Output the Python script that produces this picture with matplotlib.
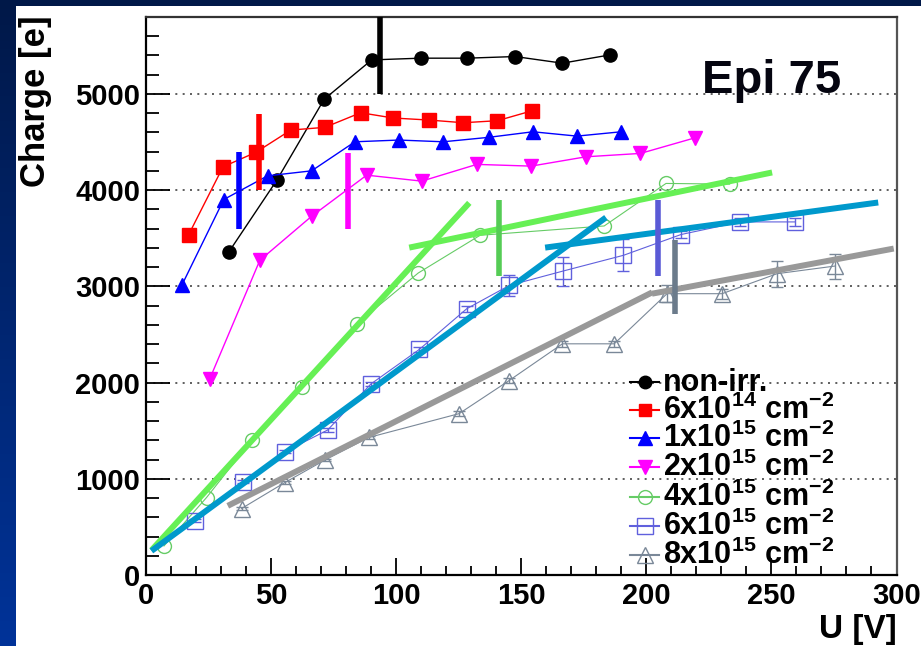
import numpy as np
import matplotlib
matplotlib.use("Agg")
import matplotlib.pyplot as plt
from matplotlib.lines import Line2D
from matplotlib.ticker import MultipleLocator
from matplotlib.colors import LinearSegmentedColormap

plt.rcParams['font.family'] = ['Liberation Sans', 'DejaVu Sans']
plt.rcParams['font.weight'] = 'bold'
plt.rcParams['mathtext.default'] = 'regular'

# ---------------- data ----------------
v_nonirr = [33.2, 52.4, 71.3, 90.3, 109.9, 128.5, 147.6, 166.5, 185.5]
q_nonirr = [3357, 4104, 4945, 5354, 5372, 5372, 5389, 5320, 5406]

v_6e14 = [17.2, 30.9, 44.0, 58.0, 71.6, 85.9, 98.9, 113.2, 126.9, 140.5, 154.5]
q_6e14 = [3539, 4243, 4393, 4625, 4653, 4805, 4750, 4729, 4701, 4722, 4826]

v_1e15 = [14.4, 31.2, 48.7, 66.3, 83.6, 101.2, 118.9, 137.0, 154.7, 172.3, 190.0]
q_1e15 = [3010, 3903, 4149, 4201, 4503, 4521, 4503, 4549, 4607, 4562, 4607]

v_2e15 = [25.6, 45.6, 66.3, 88.3, 110.3, 132.3, 154.0, 175.9, 197.7, 219.6]
q_2e15 = [2039, 3271, 3729, 4156, 4094, 4268, 4250, 4347, 4382, 4545]

v_4e15 = [7.3, 24.3, 42.5, 62.3, 84.3, 108.9, 133.6, 183.2, 207.9, 233.3]
q_4e15 = [302, 805, 1403, 1958, 2611, 3139, 3531, 3628, 4070, 4063]

v_6e15 = [19.6, 38.9, 55.6, 72.7, 90.0, 109.3, 128.3, 145.3, 166.7, 190.9, 213.9, 237.6, 259.3]
q_6e15 = [562, 969, 1281, 1507, 1986, 2344, 2768, 3010, 3159, 3323, 3539, 3670, 3670]
e_6e15 = [15, 15, 15, 20, 25, 30, 30, 105, 150, 168, 40, 40, 40]

v_8e15 = [38.3, 55.6, 71.6, 89.2, 125.2, 145.2, 166.5, 187.2, 208.3, 230.3, 252.3, 275.3]
q_8e15 = [691, 961, 1195, 1430, 1677, 2021, 2403, 2403, 2924, 2924, 3132, 3211]
e_8e15 = [15, 15, 15, 20, 25, 30, 30, 30, 87, 50, 135, 130]

# linear-fit segments ([V start, V end], [Q start, Q end])
fit_4e15 = [([2.3, 129.3], [257, 3868]), ([105.3, 250.3], [3403, 4184])]
fit_6e15 = [([2.3, 183.9], [250, 3716]), ([159.6, 292.7], [3403, 3872])]
fit_8e15 = [([32.8, 202.4], [719, 2938]), ([202.3, 298.9], [2924, 3393])]

# depletion-voltage markers (V, Q low, Q high)
dep_v = [93.6, 45.2, 37.3, 81.0, 141.3, 204.7, 211.3]
dep_lo = [5000, 4000, 3601, 3601, 3107, 3107, 2716]
dep_hi = [5800, 4788, 4393, 4382, 3896, 3896, 3486]
dep_colors = ['black', '#ff0000', '#0000ff', '#ff00ff', '#55cc55', '#5a5ad6', '#6b7b8b']

labels = ['non-irr.',
          r'6x10$^{14}$ cm$^{-2}$',
          r'1x10$^{15}$ cm$^{-2}$',
          r'2x10$^{15}$ cm$^{-2}$',
          r'4x10$^{15}$ cm$^{-2}$',
          r'6x10$^{15}$ cm$^{-2}$',
          r'8x10$^{15}$ cm$^{-2}$']

# ---------------- figure ----------------
W, H = 921, 646
fig = plt.figure(figsize=(W / 100, H / 100), dpi=100)
fig.patch.set_facecolor('white')

# navy frame strips
grad = np.linspace(0, 1, 256).reshape(-1, 1)
cm_nav = LinearSegmentedColormap.from_list('nav', ['#001848', '#003399'])
axl = fig.add_axes([0, 0, 15 / W, 1])
axl.imshow(grad, aspect='auto', cmap=cm_nav, extent=[0, 1, 0, 1], origin='upper')
axl.axis('off')
axt = fig.add_axes([0, 1 - 5.5 / H, 1, 5.5 / H])
axt.set_facecolor('#001848')
axt.set_xticks([]); axt.set_yticks([])
for s in axt.spines.values():
    s.set_visible(False)

x0, x1, yb, yt = 145.7, 896.5, 575, 17
ax = fig.add_axes([x0 / W, 1 - yb / H, (x1 - x0) / W, (yb - yt) / H])
ax.set_xlim(0, 300)
ax.set_ylim(0, 5800)

# grid
for yv in [1000, 2000, 3000, 4000, 5000]:
    ax.axhline(yv, color='#333333', lw=1.1, ls=(0, (1.3, 3.5)), zorder=0.5)

# data series
ax.plot(v_nonirr, q_nonirr, '-o', color='black', lw=1, ms=9.5, zorder=3)
ax.plot(v_6e14, q_6e14, '-s', color='#ff0000', lw=1, ms=9.5, zorder=3)
ax.plot(v_1e15, q_1e15, '-^', color='#0000ff', lw=1, ms=10, zorder=3)
ax.plot(v_2e15, q_2e15, '-v', color='#ff00ff', lw=1, ms=10, zorder=3)
ax.plot(v_4e15, q_4e15, '-o', color='#66cc66', mfc='none', mew=1, lw=0.8, ms=10, zorder=3)
ax.errorbar(v_6e15, q_6e15, yerr=e_6e15, fmt='-s', color='#6060dd', mfc='none', mew=1,
            lw=0.8, ms=11, capsize=4, elinewidth=1, zorder=3)
ax.errorbar(v_8e15, q_8e15, yerr=e_8e15, fmt='-^', color='#7a8898', mfc='none', mew=1,
            lw=0.8, ms=11, capsize=4, elinewidth=1, zorder=3)

# fit lines
for xs, ys in fit_4e15:
    ax.plot(xs, ys, color='#66f055', lw=4.3, solid_capstyle='butt', zorder=4)
for xs, ys in fit_6e15:
    ax.plot(xs, ys, color='#0099cc', lw=4.3, solid_capstyle='butt', zorder=4)
for xs, ys in fit_8e15:
    ax.plot(xs, ys, color='#999999', lw=4.3, solid_capstyle='butt', zorder=4)

# depletion markers
ax.vlines(dep_v, dep_lo, dep_hi, colors=dep_colors, lw=4, zorder=5)

# axes styling
ax.xaxis.set_major_locator(MultipleLocator(50))
ax.xaxis.set_minor_locator(MultipleLocator(10))
ax.yaxis.set_major_locator(MultipleLocator(1000))
ax.yaxis.set_minor_locator(MultipleLocator(200))
ax.tick_params(axis='both', which='both', direction='in', top=False, right=False,
               width=1.3, labelsize=21)
ax.tick_params(axis='y', which='major', length=17, pad=4)
ax.tick_params(axis='y', which='minor', length=9)
ax.tick_params(axis='x', which='major', length=12, pad=5)
ax.tick_params(axis='x', which='minor', length=6.5)
for lab in ax.get_xticklabels() + ax.get_yticklabels():
    lab.set_fontweight('bold')
ax.spines['left'].set_linewidth(1.6)
ax.spines['bottom'].set_linewidth(1.6)
ax.spines['top'].set_linewidth(1.6)
ax.spines['top'].set_color('#333333')
ax.spines['right'].set_linewidth(1.6)
ax.spines['right'].set_color('#555555')

# axis titles
fig.text(36 / W, 1 - 15 / H, 'Charge [e]', rotation=90, ha='center', va='top',
         fontsize=25, fontweight='bold')
fig.text(897 / W, 1 - 638 / H, 'U [V]', ha='right', va='baseline',
         fontsize=24, fontweight='bold')
fig.text(702 / W, 1 - 93 / H, 'Epi 75', ha='left', va='baseline',
         fontsize=34, fontweight='bold', color='#050510')

# legend (manual, ROOT style)
leg_style = [
    dict(marker='o', color='black', ms=9, mfc='black'),
    dict(marker='s', color='#ff0000', ms=9, mfc='#ff0000'),
    dict(marker='^', color='#0000ff', ms=10, mfc='#0000ff'),
    dict(marker='v', color='#ff00ff', ms=10, mfc='#ff00ff'),
    dict(marker='o', color='#66cc66', ms=10, mfc='none'),
    dict(marker='s', color='#6060dd', ms=11, mfc='none'),
    dict(marker='^', color='#7a8898', ms=11, mfc='none'),
]
row_y = [381.7, 410, 438.3, 467, 496.7, 526, 555]
for yy, st, lab in zip(row_y, leg_style, labels):
    yf = 1 - yy / H
    fig.add_artist(Line2D([630 / W, 644.5 / W, 659 / W], [yf, yf, yf],
                          transform=fig.transFigure, lw=1.5, color=st['color'],
                          marker=st['marker'], ms=st['ms'], markevery=[1],
                          mfc=st['mfc'], markeredgecolor=st['color']))
    fig.text(663 / W, 1 - (yy + 9) / H, lab, ha='left', va='baseline',
             fontsize=22, fontweight='bold')

fig.savefig('out.png', dpi=100, facecolor='white')
